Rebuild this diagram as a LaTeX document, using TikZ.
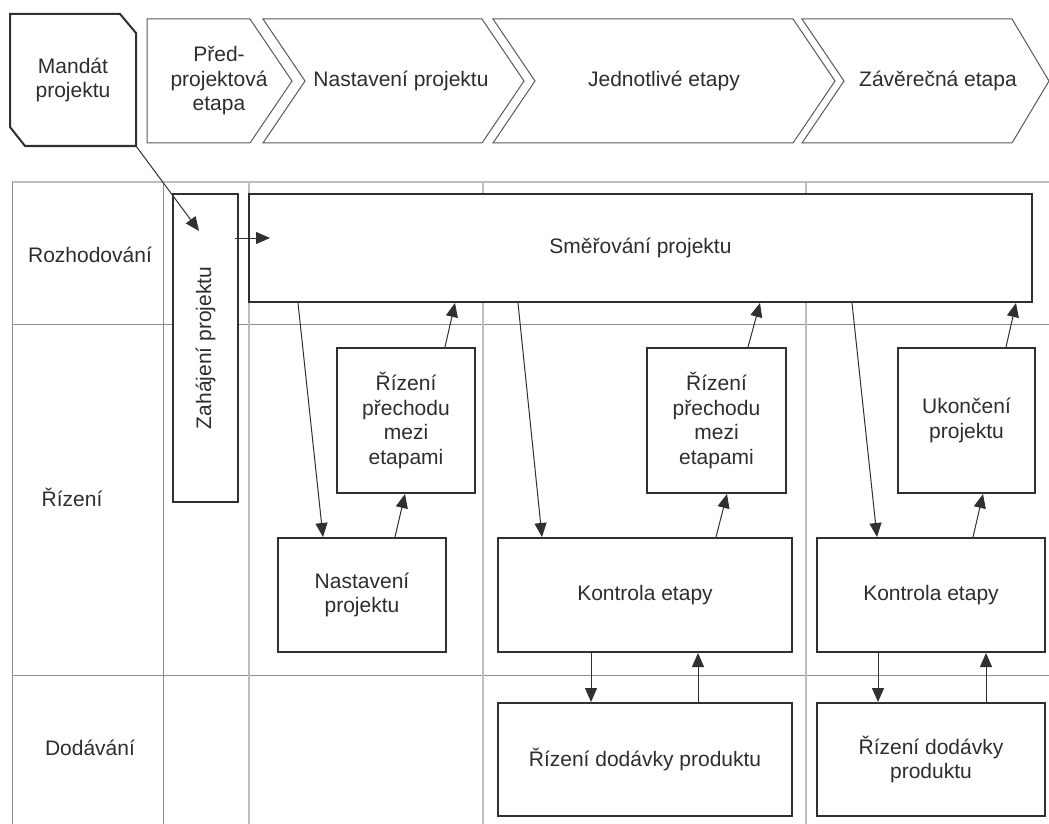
\documentclass[tikz,border=0pt]{standalone}
\usepackage{fontspec}
\setmainfont{Liberation Sans}
\usetikzlibrary{arrows.meta}
\definecolor{edge}{HTML}{303030}
\definecolor{gridc}{HTML}{8C8C8C}
\definecolor{gridl}{HTML}{BDBDBD}
\definecolor{ink}{HTML}{2E2E2E}
\definecolor{phaseline}{HTML}{5A5A5A}

\begin{document}
\begin{tikzpicture}[x=1pt,y=-1pt,
  font=\fontsize{21}{24.5}\selectfont,
  txt/.style={text=ink, align=center, inner sep=0pt},
  box/.style={draw=edge, line width=2pt, fill=white, text=ink, align=center, inner sep=0pt},
  phase/.style={draw=phaseline, line width=1pt, fill=white},
  lane/.style={draw=gridc, line width=1pt},
  lanelight/.style={draw=gridl, line width=1.8pt},
  arr/.style={draw=edge, line width=1pt, -{Triangle[length=14pt,width=12pt]}}
]
\useasboundingbox[fill=white] (0,0) rectangle (1049,824);

% ---- phase header ----
\draw[draw=edge, line width=2pt, fill=white]
  (10,14) -- (120,14) -- (136,33) -- (136,146) -- (25,146) -- (10,127) -- cycle;
\node[txt] (mand) at (73,80) {Mandát\\projektu};
\coordinate (mandc) at (136,146);

\draw[phase] (147,19) -- (250,19) -- (292,81) -- (250,143) -- (147,143) -- cycle;
\draw[phase] (263,19) -- (482,19) -- (524,81) -- (482,143) -- (263,143) -- (305,81) -- cycle;
\draw[phase] (493,19) -- (793,19) -- (835,81) -- (793,143) -- (493,143) -- (535,81) -- cycle;
\draw[phase] (802,19) -- (1012,19) -- (1049,81) -- (1012,143) -- (802,143) -- (844,81) -- cycle;
\node[txt] (ph1) at (219,81) {Před-\\projektová\\etapa};
\node[txt] (ph2) at (401,81) {Nastavení projektu};
\node[txt] (ph3) at (664,81) {Jednotlivé etapy};
\node[txt] (ph4) at (938,81) {Závěrečná etapa};

% ---- swimlane grid ----
\draw[lanelight] (12,182) -- (1049,182);
\draw[lane] (12,324) -- (1049,324);
\draw[lane] (12,675) -- (1049,675);
\draw[lane] (12,182) -- (12,824);
\draw[lane] (163,182) -- (163,824);
\draw[lanelight] (249,182) -- (249,824);
\draw[lanelight] (483,182) -- (483,824);
\draw[lanelight] (806,182) -- (806,824);

\node[txt] (lrozh) at (90,255) {Rozhodování};
\node[txt] (lriz) at (72,497) {Řízení};
\node[txt] (ldod) at (90,748) {Dodávání};

% ---- process boxes ----
\node[box, minimum width=65pt, minimum height=308pt] (zah) at (205.5,348) {};
\node[txt, rotate=90] (zahtxt) at (zah.center) {Zahájení projektu};
\node[box, minimum width=783pt, minimum height=108pt] (smer) at (640.5,248) {Směřování projektu};

\node[box, minimum width=138pt, minimum height=145pt] (prech1) at (406,420.5) {Řízení\\přechodu\\mezi\\etapami};
\node[box, minimum width=168pt, minimum height=114pt] (nast) at (362,595) {Nastavení\\projektu};

\node[box, minimum width=139pt, minimum height=145pt] (prech2) at (716.5,420.5) {Řízení\\přechodu\\mezi\\etapami};
\node[box, minimum width=294pt, minimum height=114pt] (kontr1) at (645,595) {Kontrola etapy};
\node[box, minimum width=294pt, minimum height=113pt] (dod1) at (645,759.5) {Řízení dodávky produktu};

\node[box, minimum width=137pt, minimum height=145pt] (ukon) at (966.5,420.5) {Ukončení\\projektu};
\node[box, minimum width=228pt, minimum height=114pt] (kontr2) at (931,595) {Kontrola etapy};
\node[box, minimum width=228pt, minimum height=113pt] (dod2) at (931,759.5) {Řízení dodávky\\produktu};

% ---- connectors ----
\coordinate (zahin) at (199,231);
\coordinate (zahout) at (235,238);
\coordinate (smerin) at (270,238);
\draw[arr] (mandc) -- (zahin);
\draw[arr] (zahout) -- (smerin);

\draw[arr] (298,0 |- smer.south) -- (323,0 |- nast.north);
\draw[arr] (395,0 |- nast.north) -- (405,0 |- prech1.south);
\draw[arr] (445,0 |- prech1.north) -- (455,0 |- smer.south);

\draw[arr] (518,0 |- smer.south) -- (542,0 |- kontr1.north);
\draw[arr] (716,0 |- kontr1.north) -- (727,0 |- prech2.south);
\draw[arr] (748,0 |- prech2.north) -- (760,0 |- smer.south);

\draw[arr] (852,0 |- smer.south) -- (877,0 |- kontr2.north);
\draw[arr] (973,0 |- kontr2.north) -- (983,0 |- ukon.south);
\draw[arr] (1006,0 |- ukon.north) -- (1016,0 |- smer.south);

\draw[arr] (591,0 |- kontr1.south) -- (591,0 |- dod1.north);
\draw[arr] (698,0 |- dod1.north) -- (698,0 |- kontr1.south);
\draw[arr] (878,0 |- kontr2.south) -- (878,0 |- dod2.north);
\draw[arr] (986,0 |- dod2.north) -- (986,0 |- kontr2.south);
\end{tikzpicture}
\end{document}
